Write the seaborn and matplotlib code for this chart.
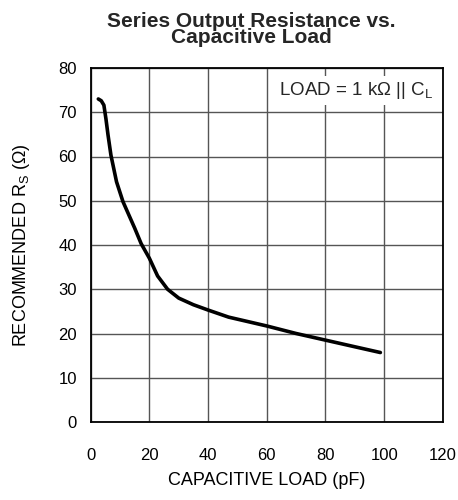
import numpy as np
import pandas as pd
import seaborn as sns
import matplotlib.pyplot as plt

# datos
cap_load_pf = [2.6, 3.6, 4.5, 5.2, 5.9, 6.9, 8.8, 11, 15, 17.2, 20, 22.8, 26.2, 30, 35, 40, 47, 60, 70, 80, 90, 98.7]
rec_rs_ohm = [73.0, 72.6, 71.6, 68.5, 64.9, 60.3, 54.3, 49.8, 43.8, 40.3, 37.0, 33.0, 30.0, 28.0, 26.5, 25.3, 23.7, 21.7, 20.0, 18.5, 17.0, 15.7]
x_ticks = [0, 20, 40, 60, 80, 100, 120]
y_ticks = [0, 10, 20, 30, 40, 50, 60, 70, 80]

df = pd.DataFrame({"cap": cap_load_pf, "rs": rec_rs_ohm})

sns.set_theme(style="white")
plt.rcParams["font.family"] = ["Liberation Sans", "DejaVu Sans"]
plt.rcParams["mathtext.fontset"] = "custom"
plt.rcParams["mathtext.rm"] = "Liberation Sans"

fig = plt.figure(figsize=(4.58, 5.0), dpi=100)
ax = fig.add_axes([0.198, 0.156, 0.769, 0.708])

sns.lineplot(data=df, x="cap", y="rs", ax=ax, color="black", linewidth=2.6, sort=False)

ax.set_xlim(0, 120)
ax.set_ylim(0, 80)
ax.set_xticks(x_ticks)
ax.set_yticks(y_ticks)
ax.grid(True, color="#555555", linewidth=1.0)
ax.tick_params(axis="both", length=0, labelsize=12, colors="black")
ax.tick_params(axis="x", pad=19)
ax.tick_params(axis="y", pad=10)
for s in ax.spines.values():
    s.set_color("black")
    s.set_linewidth(1.3)

ax.set_xlabel("CAPACITIVE LOAD (pF)", fontsize=13, labelpad=6, color="black")
ax.set_ylabel(r"RECOMMENDED R$_\mathregular{S}$ ($\Omega$)", fontsize=13, labelpad=19, color="black")

ax.text(90.5, 75.0, r"LOAD = 1 k$\Omega$ || C$_\mathregular{L}$", fontsize=13.5,
        ha="center", va="center",
        bbox=dict(facecolor="white", edgecolor="none", pad=3))

fig.text(0.549, 0.941, "Series Output Resistance vs.\nCapacitive Load", ha="center", va="center",
         fontsize=15, fontweight="bold", linespacing=0.8)

fig.savefig("out.png", dpi=100)
